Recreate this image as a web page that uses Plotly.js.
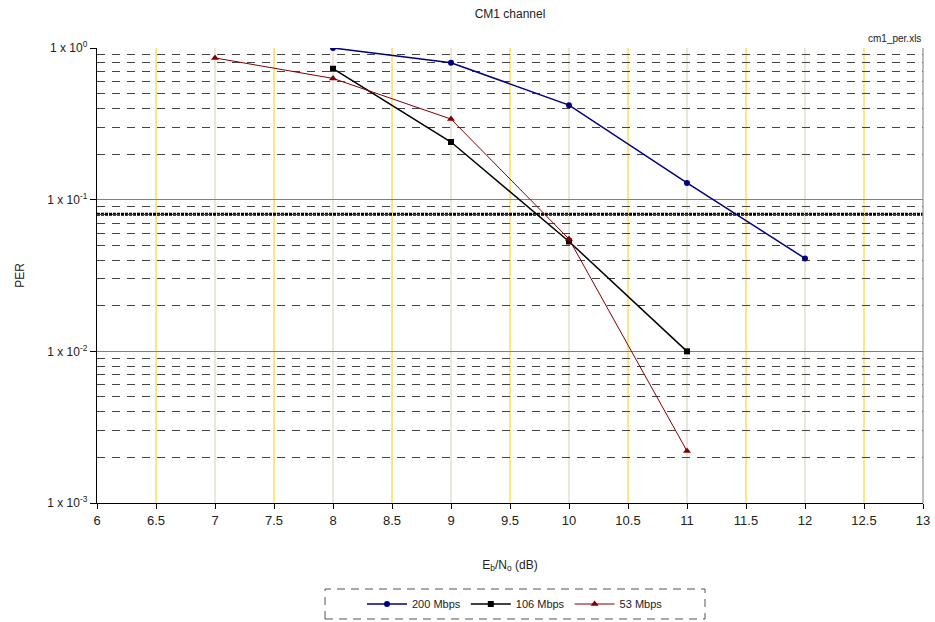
<!DOCTYPE html>
<html><head><meta charset="utf-8">
<script src="https://cdn.plot.ly/plotly-3.0.1.min.js"></script>
<style>html,body{margin:0;padding:0;background:#fff}#c{width:935px;height:622px}</style>
</head><body><div id="c"></div>
<script>
const ebno200 = [8, 9, 10, 11, 12];
const per200  = [1.0, 0.80, 0.42, 0.129, 0.041];
const ebno106 = [8, 9, 10, 11];
const per106  = [0.73, 0.24, 0.053, 0.0100];
const ebno53  = [7, 8, 9, 10, 11];
const per53   = [0.86, 0.63, 0.34, 0.055, 0.0022];
const seriesNames = ['200 Mbps', '106 Mbps', '53 Mbps'];
const targetPER = 0.08;
const xTicks = [6, 6.5, 7, 7.5, 8, 8.5, 9, 9.5, 10, 10.5, 11, 11.5, 12, 12.5, 13];
const yMajor = [0.001, 0.01, 0.1, 1];
const yMajorText = ['1 x 10<sup>-3</sup>', '1 x 10<sup>-2</sup>', '1 x 10<sup>-1</sup>', '1 x 10<sup>0</sup>'];
const yMinor = [];
[0.001, 0.01, 0.1].forEach(d => { for (let k = 2; k <= 9; k++) yMinor.push(d * k); });

const font = 'Liberation Sans, Arial, sans-serif';

const traces = [
  {x: ebno200, y: per200, name: seriesNames[0], mode: 'lines+markers',
   line: {color: '#000080', width: 1.5}, marker: {symbol: 'circle', size: 6, color: '#000080'}},
  {x: ebno106, y: per106, name: seriesNames[1], mode: 'lines+markers',
   line: {color: '#000000', width: 1.5}, marker: {symbol: 'square', size: 6, color: '#000000'}},
  {x: ebno53, y: per53, name: seriesNames[2], mode: 'lines+markers',
   line: {color: '#800000', width: 1}, marker: {symbol: 'triangle-up', size: 7, color: '#800000'}}
];

const shapes = [];
// vertical gridlines: integers grayish, halves yellow
xTicks.filter(v => v > 6 && v < 13).forEach(v => {
  const isInt = Number.isInteger(v);
  shapes.push({type: 'line', xref: 'x', yref: 'paper', x0: v, x1: v, y0: 0, y1: 1,
    line: {color: isInt ? '#d4cfb4' : '#ffcc00', width: 1}, layer: 'between'});
});
// target PER dotted line
shapes.push({type: 'line', xref: 'paper', yref: 'y', x0: 0, x1: 1, y0: targetPER, y1: targetPER,
  line: {color: '#000', width: 3, dash: '3px,1px'}, layer: 'between'});
// legend dashed box
shapes.push({type: 'rect', xref: 'paper', yref: 'paper',
  x0: (325 - 97) / 826, x1: (705 - 97) / 826, y0: (503 - 619) / 455, y1: (503 - 589) / 455,
  line: {color: '#555', width: 1, dash: '8px,6px'}});
// right gray border
shapes.push({type: 'line', xref: 'paper', yref: 'paper', x0: 1, x1: 1, y0: 0, y1: 1, line: {color: '#909090', width: 1.2}});

const layout = {
  width: 935, height: 622,
  margin: {l: 97, r: 12, t: 48, b: 119, autoexpand: false},
  paper_bgcolor: '#fff', plot_bgcolor: '#fff',
  font: {family: font, size: 12, color: '#222'},
  title: {text: 'CM1 channel', x: 0.5, xref: 'paper', y: 0.985, yanchor: 'top', font: {size: 12, color: '#222'}},
  showlegend: true,
  legend: {orientation: 'h', x: (515 - 97) / 826, xanchor: 'center', y: (503 - 604) / 455, yanchor: 'middle',
    font: {size: 11, color: '#222'}, bgcolor: 'rgba(0,0,0,0)', borderwidth: 0, itemwidth: 40, tracegroupgap: 0},
  xaxis: {
    range: [6, 13], tickmode: 'array', tickvals: xTicks, ticktext: xTicks.map(String),
    showgrid: false,
    ticks: 'outside', ticklen: 5, tickcolor: '#000', tickwidth: 1,
    showline: true, linecolor: '#000', linewidth: 1.2, mirror: false,
    zeroline: false, tickfont: {size: 13, color: '#222'},
    title: {text: 'E<sub>b</sub>/N<sub>o</sub> (dB)', font: {size: 12, color: '#222'}, standoff: 33}
  },
  yaxis: {
    type: 'log', range: [-3, 0], tickmode: 'array', tickvals: yMajor, ticktext: yMajorText,
    showgrid: true, gridcolor: '#808080', gridwidth: 1,
    ticks: 'outside', ticklen: 6, tickcolor: '#000',
    showline: true, linecolor: '#000', linewidth: 1.2,
    zeroline: false, tickfont: {size: 12, color: '#222'},
    minor: {tickmode: 'array', tickvals: yMinor, showgrid: true, gridcolor: '#444', griddash: '8px,7px', gridwidth: 1, ticks: ''},
    title: {text: 'PER', font: {size: 12, color: '#222'}, standoff: 20}
  },
  shapes: shapes,
  annotations: [
    {text: 'cm1_per.xls', xref: 'paper', yref: 'paper', x: 1, xanchor: 'right', y: 1, yanchor: 'bottom', yshift: 2,
     showarrow: false, font: {size: 10, color: '#222'}}
  ]
};

Plotly.newPlot('c', traces, layout, {displayModeBar: false, staticPlot: true});
</script></body></html>
